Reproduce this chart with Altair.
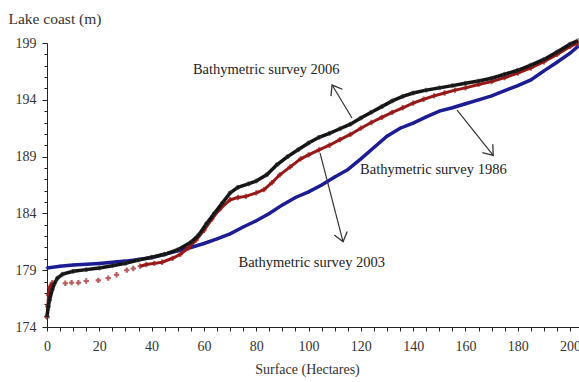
import altair as alt
import pandas as pd

# ---- Data ----
x_1986 = [0, 5, 10, 20, 30, 40, 45, 50, 55, 60, 65, 70, 75, 80, 85, 90, 95, 100, 105, 110,
          115, 120, 125, 130, 135, 140, 145, 150, 155, 160, 165, 170, 175, 180, 185, 190,
          195, 200, 203]
y_1986 = [179.2, 179.35, 179.45, 179.6, 179.8, 180.1, 180.4, 180.7, 181.0, 181.35, 181.75,
          182.2, 182.8, 183.35, 184.0, 184.75, 185.4, 185.9, 186.5, 187.2, 187.85, 188.8,
          189.8, 190.8, 191.5, 191.95, 192.5, 193.0, 193.3, 193.65, 194.0, 194.35, 194.8,
          195.25, 195.75, 196.55, 197.3, 198.1, 198.7]

x_2003 = [0, 0.3, 0.6, 1, 2, 7, 9.4, 12, 15, 19.6, 23.4, 26.6, 30.5, 33, 35.6, 38, 41, 44,
          48, 51, 54, 57, 60, 63, 66, 70, 73, 76, 80, 83, 86, 89, 93, 97, 100, 104, 108,
          112, 116, 120, 124, 128, 132, 136, 140, 144, 148, 152, 156, 160, 165, 170, 175,
          180, 185, 190, 195, 200, 203]
y_2003 = [174.9, 175.8, 176.8, 177.5, 177.9, 177.85, 177.9, 177.9, 178.05, 178.1, 178.3,
          178.6, 179.0, 179.15, 179.35, 179.5, 179.6, 179.7, 180.05, 180.4, 180.95, 181.65,
          182.5, 183.5, 184.35, 185.2, 185.4, 185.5, 185.8, 186.1, 186.7, 187.4, 188.1,
          188.8, 189.15, 189.6, 190.0, 190.5, 190.95, 191.5, 192.0, 192.45, 192.9, 193.3,
          193.7, 194.05, 194.35, 194.6, 194.85, 195.05, 195.35, 195.6, 195.95, 196.35,
          196.8, 197.35, 198.0, 198.7, 199.0]

x_2006 = [0, 0.5, 1, 2, 3, 4, 6, 10, 15, 20, 25, 30, 35, 40, 45, 50, 55, 58, 61, 64, 67,
          70, 73, 77, 80, 84, 88, 92, 96, 100, 104, 108, 112, 116, 120, 124, 128, 132, 136,
          140, 145, 150, 155, 160, 165, 170, 175, 180, 185, 190, 195, 200, 203]
y_2006 = [174.9, 175.8, 176.4, 177.3, 177.9, 178.3, 178.65, 178.9, 179.05, 179.2, 179.4,
          179.6, 179.9, 180.15, 180.4, 180.8, 181.45, 182.1, 183.1, 184.0, 184.9, 185.8,
          186.3, 186.6, 186.85, 187.4, 188.3, 189.0, 189.6, 190.2, 190.7, 191.05, 191.45,
          191.85, 192.4, 192.9, 193.4, 193.9, 194.3, 194.6, 194.85, 195.05, 195.25, 195.45,
          195.65, 195.9, 196.25, 196.6, 197.05, 197.55, 198.2, 198.9, 199.2]

x_ticks = list(range(0, 205, 5))
y_ticks = list(range(174, 200))

labels = ["Bathymetric survey 2006", "Bathymetric survey 1986", "Bathymetric survey 2003"]
label_x = [55.8, 119.7, 73.2]
label_y = [196.6, 187.8, 179.6]
arrow_x1 = [116.6, 156.8, 104.4]
arrow_y1 = [192.4, 193.1, 189.3]
arrow_x2 = [109.0, 170.6, 113.2]
arrow_y2 = [195.3, 189.1, 181.5]
arrow_ang = [239, 51, 75]

def frame(xs, ys):
    return pd.DataFrame({"x": xs, "y": ys})

d1986 = frame(x_1986, y_1986)
d2003 = frame(x_2003, y_2003)
d2006 = frame(x_2006, y_2006)
ann = pd.DataFrame({"label": labels, "lx": label_x, "ly": label_y,
                    "x1": arrow_x1, "y1": arrow_y1, "x2": arrow_x2, "y2": arrow_y2,
                    "ang": arrow_ang})

FONT = "Liberation Serif"
xscale = alt.Scale(domain=[0, 203.4], nice=False, zero=False)
yscale = alt.Scale(domain=[174, 199], nice=False, zero=False)

xaxis = alt.Axis(values=x_ticks, labelExpr="datum.value % 20 == 0 ? datum.label : ''",
                 title="Surface (Hectares)", grid=False, tickSize=4, labelPadding=8,
                 labelFlush=False, labelOverlap=False, domainColor="#222", tickColor="#222",
                 labelColor="#333", labelFont=FONT, labelFontSize=14,
                 titleFont=FONT, titleFontSize=14, titleFontWeight="normal", titleColor="#333",
                 titleX=260, titleY=42, titleAlign="center", titleBaseline="middle")
yaxis = alt.Axis(values=y_ticks, labelExpr="datum.value % 5 == 4 ? datum.label : ''",
                 title="Lake coast (m)", grid=False,
                 tickSize={"condition": {"test": "datum.value % 5 == 4", "value": 5}, "value": 3},
                 labelPadding=6, labelOverlap=False, labelFlush=False,
                 domainColor="#222", tickColor="#222", labelColor="#333",
                 labelFont=FONT, labelFontSize=14, titleFont=FONT, titleFontSize=15.5,
                 titleFontWeight="normal", titleColor="#333", titleAngle=0,
                 titleAlign="left", titleBaseline="middle", titleX=-39, titleY=-25)

BLUE = "#1c1c94"
RED = "#981818"
BLACK = "#141414"

def X(f):
    return alt.X(f, scale=xscale, axis=xaxis)

def Y(f):
    return alt.Y(f, scale=yscale, axis=yaxis)

blue_line = alt.Chart(d1986).mark_line(color=BLUE, strokeWidth=3.5).encode(
    x=X("x:Q"), y=Y("y:Q"))
blue_pts = alt.Chart(d1986).mark_point(color=BLUE, filled=True, size=14, shape="diamond").encode(
    x=X("x:Q"), y=Y("y:Q"))

red_line = alt.Chart(d2003).transform_filter("datum.x < 3 || datum.x > 33").transform_calculate(
    seg="datum.x < 3 ? 'a' : 'b'").mark_line(color=RED, strokeWidth=3).encode(
    x=X("x:Q"), y=Y("y:Q"), detail="seg:N")
red_pts = alt.Chart(d2003).mark_point(color=RED, filled=True, size=28, shape="cross").encode(
    x=X("x:Q"), y=Y("y:Q"))

black_line = alt.Chart(d2006).mark_line(color=BLACK, strokeWidth=3.5).encode(
    x=X("x:Q"), y=Y("y:Q"))
black_pts = alt.Chart(d2006).mark_point(color="#333", filled=False, size=16, strokeWidth=1).encode(
    x=X("x:Q"), y=Y("y:Q"))

arrows = alt.Chart(ann).mark_rule(color="#333", strokeWidth=1.2).encode(
    x=X("x1:Q"), y=Y("y1:Q"), x2="x2:Q", y2="y2:Q")
heads = alt.Chart(ann).mark_point(shape="M -1 -0.75 L 0 0 L -1 0.75", filled=False,
                                  color="#333", strokeWidth=1.3, size=320, opacity=1).encode(
    x=X("x2:Q"), y=Y("y2:Q"), angle=alt.Angle("ang:Q", scale=None))
texts = alt.Chart(ann).mark_text(font=FONT, fontSize=14.5, color="#222", align="left",
                                 baseline="middle").encode(
    x=X("lx:Q"), y=Y("ly:Q"), text="label:N")

chart = alt.layer(blue_line, blue_pts, red_line, red_pts, black_line, black_pts,
                  arrows, heads, texts).properties(
    width=532, height=284,
    autosize=alt.AutoSizeParams(type="none"),
    padding={"left": 47, "top": 43, "right": 0, "bottom": 55},
    background="white",
).configure_view(stroke=None)

chart.save("out.html", embed_options={"renderer": "svg", "actions": False})
